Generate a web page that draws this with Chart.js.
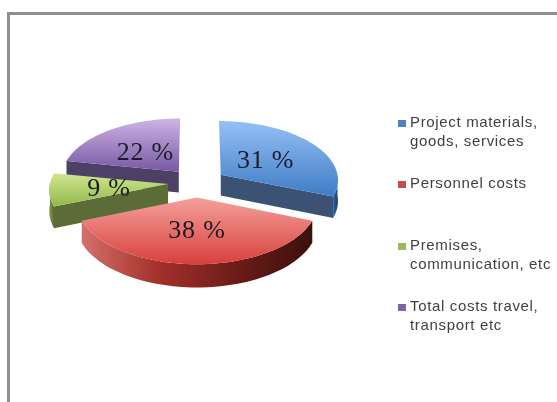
<!DOCTYPE html>
<html>
<head>
<meta charset="utf-8">
<script src="https://cdn.jsdelivr.net/npm/chart.js@4/dist/chart.umd.js"></script>
<style>
  html, body { margin: 0; padding: 0; background: #fff; overflow: hidden; }
  #wrap { position: relative; width: 557px; height: 402px; filter: blur(0.6px); overflow: hidden; }
  #frame { position: absolute; left: 7px; top: 12px; width: 600px; height: 500px; border: 3px solid #8f8f8f; }
  canvas { position: absolute; left: 0; top: 0; }
</style>
</head>
<body>
<div id="wrap">
  <div id="frame"></div>
  <canvas id="pie" width="557" height="402"></canvas>
</div>
<script>
// Values
const categories = [
  ['Project materials,', 'goods, services'],
  ['Personnel costs'],
  ['Premises,', 'communication, etc'],
  ['Total costs travel,', 'transport etc']
];
const shares = [31, 38, 9, 22];

// Colours of each slice: top face, side faces
const topColors = [['#96c0f4', '#3f7cc6'], ['#f4a09c', '#d8403c'], ['#cfe68e', '#94b84c'], ['#ccb4e6', '#7858a4']];
const cutColors = ['#3c5274', '#7a2420', '#5c6c38', '#4c4066'];
const rimColors = [['#2c5c98', '#1c4474'], ['#d4706a', '#a4302a', '#6c1c18', '#3c100c'], ['#7f9a40', '#5c6c38'], ['#5c4880', '#4c3c6c']];
const legendColors = ['#4f81bd', '#c0504d', '#9bbb59', '#8064a2'];

// Where things go on the page
const legendTop = [123, 184, 246, 307];
const legendLine = 18.5;
const labelFraction = [0.48, 0.5, 0.5, 0.47];
const tilt = 0.5, focal = 1500, depth = 21, drawOrder = [3, 0, 2, 1];

const pie3d = {
  id: 'pie3d',
  beforeDatasetDraw(chart) {
    const ctx = chart.ctx;
    const arcs = chart.getDatasetMeta(0).data;
    const cx = arcs[0].x, cy = arcs[0].y;

    const project = (x, y, z) => {
      const s = focal / (focal - (y - cy));
      return [cx + (x - cx) * s, cy + (y - cy) * tilt * s + z * s];
    };
    const fillPoly = (pts, fill) => {
      ctx.beginPath();
      pts.forEach((p, i) => i ? ctx.lineTo(p[0], p[1]) : ctx.moveTo(p[0], p[1]));
      ctx.closePath();
      ctx.fillStyle = fill;
      ctx.fill();
    };
    const gradient = (pts, colors, horizontal) => {
      const xs = pts.map(p => p[0]), ys = pts.map(p => p[1]);
      const g = horizontal
        ? ctx.createLinearGradient(Math.min(...xs), 0, Math.max(...xs), 0)
        : ctx.createLinearGradient(0, Math.min(...ys), 0, Math.max(...ys));
      colors.forEach((c, i) => g.addColorStop(i / (colors.length - 1), c));
      return g;
    };

    drawOrder.forEach(i => {
      const arc = arcs[i];
      const a = arc.startAngle, b = arc.endAngle, r = arc.outerRadius;
      const mid = (a + b) / 2, off = arc.options.offset;
      const ax = cx + Math.cos(mid) * off, ay = cy + Math.sin(mid) * off;
      const rim = t => [ax + Math.cos(t) * r, ay + Math.sin(t) * r];
      const arcPts = (from, to, z) => {
        const out = [];
        for (let k = 0; k <= 60; k++) {
          const p = rim(from + (to - from) * k / 60);
          out.push(project(p[0], p[1], z));
        }
        return out;
      };

      // cut faces that look towards the viewer
      [[a, Math.cos(a) < 0], [b, Math.cos(b) > 0]].forEach(([t, visible]) => {
        if (!visible) return;
        const p = rim(t);
        fillPoly([project(ax, ay, 0), project(p[0], p[1], 0), project(p[0], p[1], depth), project(ax, ay, depth)], cutColors[i]);
      });

      // outer wall, front half only
      const from = Math.max(a, 0), to = Math.min(b, Math.PI);
      if (to > from) {
        const pts = arcPts(from, to, 0).concat(arcPts(to, from, depth));
        fillPoly(pts, gradient(pts, rimColors[i], true));
      }

      // top face
      const face = [project(ax, ay, 0)].concat(arcPts(a, b, 0));
      fillPoly(face, gradient(face, topColors[i], false));
    });

    // percent labels on the top faces
    ctx.font = '26px "Liberation Serif"';
    ctx.letterSpacing = '0.8px';
    ctx.fillStyle = '#1c1c24';
    ctx.textAlign = 'center';
    ctx.textBaseline = 'middle';
    drawOrder.forEach(i => {
      const arc = arcs[i];
      const mid = (arc.startAngle + arc.endAngle) / 2;
      const d = arc.options.offset + arc.outerRadius * labelFraction[i];
      const p = project(cx + Math.cos(mid) * d, cy + Math.sin(mid) * d, 0);
      ctx.fillText(shares[i] + ' %', p[0], p[1] + 2);
    });
    ctx.letterSpacing = '0px';
    return false;
  },
  afterDraw(chart) {
    const ctx = chart.ctx;
    ctx.save();
    ctx.font = '15px "Liberation Sans"';
    ctx.letterSpacing = '0.66px';
    ctx.textAlign = 'left';
    ctx.textBaseline = 'middle';
    categories.forEach((lines, i) => {
      ctx.fillStyle = legendColors[i];
      ctx.fillRect(398, legendTop[i] - 3, 8, 7);
      ctx.fillStyle = '#404040';
      lines.forEach((line, n) => ctx.fillText(line, 410, legendTop[i] + n * legendLine));
    });
    ctx.restore();
  }
};

new Chart(document.getElementById('pie'), {
  type: 'pie',
  data: {
    labels: categories,
    datasets: [{ data: shares, backgroundColor: legendColors, borderWidth: 0, offset: 29 }]
  },
  options: {
    responsive: false,
    animation: false,
    layout: { padding: { left: 64.5, right: 227.5, top: 50.2, bottom: 86.8 } },
    plugins: { legend: { display: false }, tooltip: { enabled: false } }
  },
  plugins: [pie3d]
});
</script>
</body>
</html>
